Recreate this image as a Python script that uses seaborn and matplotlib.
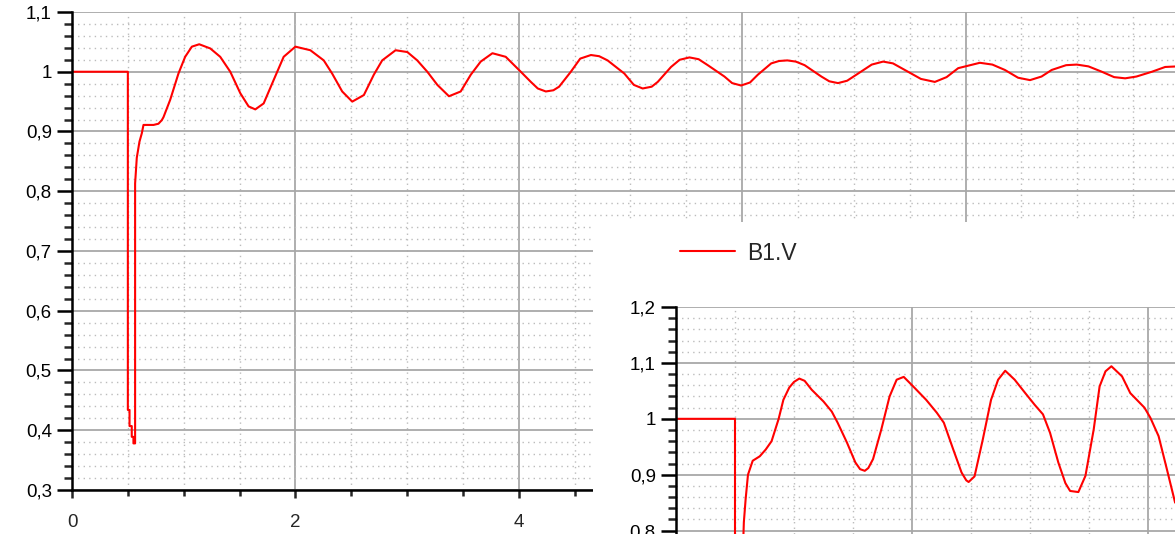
import matplotlib
matplotlib.use("Agg")
import pandas as pd
import matplotlib.pyplot as plt
from matplotlib.ticker import MultipleLocator, FuncFormatter
import seaborn as sns

sns.set_style("white")
plt.rcParams["font.family"] = ["Liberation Sans", "DejaVu Sans"]

# main trace (time, voltage)
main_t = [0, 0.5, 0.5, 0.515, 0.515, 0.535, 0.535, 0.55, 0.55, 0.565, 0.565, 0.58, 0.604,
          0.625, 0.64, 0.73, 0.774, 0.804, 0.819, 0.879, 0.953, 1.013, 1.073, 1.139, 1.238,
          1.327, 1.417, 1.507, 1.581, 1.641, 1.716, 1.805, 1.895, 2.0, 2.134, 2.254, 2.329,
          2.419, 2.509, 2.613, 2.702, 2.777, 2.897, 3.002, 3.091, 3.181, 3.271, 3.375, 3.48,
          3.57, 3.659, 3.764, 3.883, 4.018, 4.108, 4.17, 4.242, 4.31, 4.361, 4.466, 4.55,
          4.646, 4.72, 4.795, 4.945, 5.03, 5.109, 5.19, 5.244, 5.363, 5.44, 5.528, 5.61,
          5.692, 5.841, 5.91, 5.99, 6.07, 6.14, 6.26, 6.33, 6.404, 6.48, 6.559, 6.709,
          6.78, 6.858, 6.94, 7.038, 7.16, 7.262, 7.35, 7.456, 7.6, 7.725, 7.83, 7.934,
          8.128, 8.24, 8.352, 8.47, 8.577, 8.68, 8.771, 8.9, 8.996, 9.1, 9.22, 9.33,
          9.429, 9.53, 9.668, 9.787, 9.9]
main_v = [1.0, 1.0, 0.434, 0.434, 0.407, 0.407, 0.389, 0.389, 0.378, 0.378, 0.813, 0.856, 0.883,
          0.897, 0.911, 0.911, 0.913, 0.919, 0.924, 0.953, 0.997, 1.025, 1.042, 1.046, 1.039,
          1.025, 1.0, 0.964, 0.942, 0.937, 0.947, 0.986, 1.025, 1.042, 1.036, 1.019, 0.997,
          0.967, 0.95, 0.961, 0.995, 1.019, 1.036, 1.033, 1.019, 1.0, 0.978, 0.959, 0.967,
          0.995, 1.017, 1.031, 1.025, 1.0, 0.983, 0.972, 0.967, 0.969, 0.975, 1.0, 1.022,
          1.028, 1.026, 1.019, 0.997, 0.978, 0.972, 0.975, 0.983, 1.008, 1.02, 1.024, 1.021,
          1.011, 0.992, 0.981, 0.977, 0.982, 0.995, 1.014, 1.018, 1.019, 1.017, 1.011, 0.992,
          0.984, 0.981, 0.985, 0.997, 1.012, 1.017, 1.014, 1.003, 0.988, 0.983, 0.991, 1.006,
          1.015, 1.012, 1.003, 0.99, 0.986, 0.992, 1.003, 1.011, 1.012, 1.009, 1.0, 0.991,
          0.989, 0.992, 1.0, 1.008, 1.009]

# zoomed trace shown in the lower right panel
inset_t = [0, 0.5, 0.5, 0.565, 0.575, 0.59, 0.61, 0.65, 0.71, 0.76, 0.81, 0.87, 0.91, 0.96,
           1.0, 1.045, 1.09, 1.15, 1.25, 1.32, 1.37, 1.45, 1.52, 1.56, 1.6, 1.63, 1.67, 1.74,
           1.81, 1.87, 1.93, 2.01, 2.12, 2.21, 2.27, 2.35, 2.42, 2.46, 2.48, 2.53, 2.6, 2.67,
           2.73, 2.79, 2.87, 2.96, 3.04, 3.11, 3.17, 3.24, 3.3, 3.34, 3.41, 3.47, 3.54, 3.59,
           3.64, 3.69, 3.78, 3.85, 3.97, 4.02, 4.09, 4.16, 4.23]
inset_v = [1.0, 1.0, 0.75, 0.75, 0.815, 0.856, 0.9, 0.925, 0.933, 0.945, 0.96, 1.0, 1.034, 1.056,
           1.066, 1.072, 1.068, 1.052, 1.031, 1.013, 0.993, 0.957, 0.922, 0.91, 0.907, 0.912, 0.928,
           0.981, 1.04, 1.07, 1.075, 1.058, 1.034, 1.011, 0.993, 0.945, 0.904, 0.89, 0.887, 0.897,
           0.963, 1.034, 1.07, 1.086, 1.07, 1.046, 1.025, 1.008, 0.975, 0.922, 0.885, 0.871, 0.869,
           0.898, 0.981, 1.058, 1.085, 1.094, 1.076, 1.046, 1.02, 1.002, 0.969, 0.91, 0.85]

series_name = "B1.V"
RED = "#ff0000"


def comma(v, pos):
    return f"{round(v, 3):g}".replace(".", ",")


def even_only(v, pos):
    r = round(v)
    return str(r) if r % 2 == 0 else ""


def style(ax):
    ax.set_axisbelow(True)
    ax.yaxis.set_major_locator(MultipleLocator(0.1))
    ax.yaxis.set_minor_locator(MultipleLocator(0.02))
    ax.yaxis.set_major_formatter(FuncFormatter(comma))
    ax.xaxis.set_major_locator(MultipleLocator(2))
    ax.xaxis.set_minor_locator(MultipleLocator(0.5))
    ax.xaxis.set_major_formatter(FuncFormatter(even_only))
    ax.grid(which="major", color="#a8a8a8", linewidth=1.3, linestyle="-")
    ax.grid(which="minor", color="#bcbcbc", linewidth=1.0, linestyle=(0, (1, 3)))
    for s in ["top", "right"]:
        ax.spines[s].set_visible(False)
    for s in ["left", "bottom"]:
        ax.spines[s].set_color("black")
        ax.spines[s].set_linewidth(1.8)
    ax.tick_params(axis="y", which="major", direction="out", length=10.5, width=1.8,
                   labelsize=13.5, pad=4, left=True, colors="black")
    ax.tick_params(axis="y", which="minor", direction="out", length=6, width=1.8, left=True)
    ax.tick_params(axis="x", which="major", direction="out", length=6, width=1.8,
                   labelsize=13.5, pad=11, bottom=True)
    ax.tick_params(axis="x", which="minor", direction="out", length=4.5, width=1.8, bottom=True)
    ax.set_xlabel("")
    ax.set_ylabel("")


def main():
    main_df = pd.DataFrame({"t": main_t, "v": main_v})
    inset_df = pd.DataFrame({"t": inset_t, "v": inset_v})

    fig = plt.figure(figsize=(11.75, 5.34), dpi=100)

    # main chart
    ax = fig.add_axes([72 / 1175, 44 / 534, 1103 / 1175, 478 / 534])
    sns.lineplot(data=main_df, x="t", y="v", estimator=None, sort=False,
                 color=RED, linewidth=1.5, ax=ax)
    ax.set_xlim(0, 9.875)
    ax.set_ylim(0.3, 1.1)
    style(ax)

    # white panel that hides the lower right of the main chart
    cover = fig.add_axes([593 / 1175, 0, 582 / 1175, 312 / 534])
    cover.set_facecolor("white")
    cover.set_xticks([])
    cover.set_yticks([])
    for s in cover.spines.values():
        s.set_visible(False)

    # zoomed panel
    ins = fig.add_axes([676 / 1175, 0, 499 / 1175, 227 / 534])
    sns.lineplot(data=inset_df, x="t", y="v", estimator=None, sort=False,
                 color=RED, linewidth=1.5, ax=ins, label=series_name)
    ins.set_xlim(0, 4.229)
    ins.set_ylim(0.794, 1.2)
    style(ins)
    ins.spines["bottom"].set_visible(False)
    ins.tick_params(axis="x", which="both", bottom=False, labelbottom=False)

    handles, labels = ins.get_legend_handles_labels()
    ins.get_legend().remove()
    fig.legend(handles, labels, loc="center left", bbox_to_anchor=(680 / 1175, 281 / 534),
               frameon=False, borderpad=0, borderaxespad=0, handlelength=2.4,
               handletextpad=0.55, fontsize=16.5)

    fig.savefig("out.png", dpi=100)


if __name__ == "__main__":
    main()
